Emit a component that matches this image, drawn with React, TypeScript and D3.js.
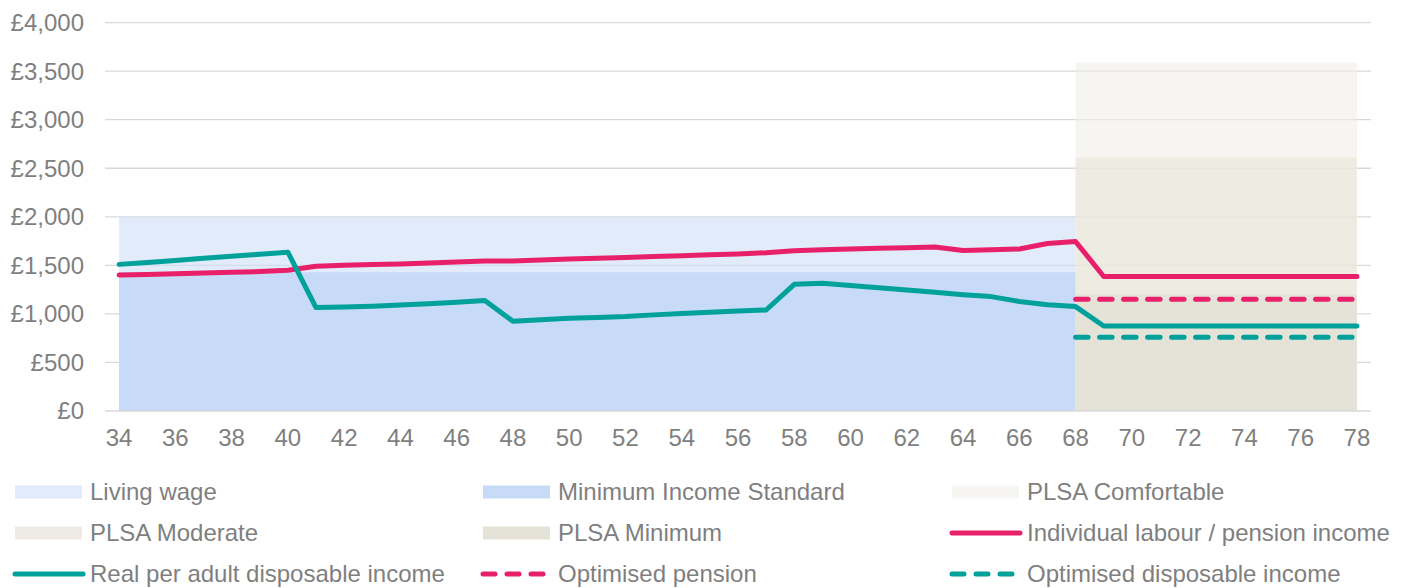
import React from "react";
import * as d3 from "d3";

const ages = [34,35,36,37,38,39,40,41,42,43,44,45,46,47,48,49,50,51,52,53,54,55,56,57,58,59,60,61,62,63,64,65,66,67,68,69,70,71,72,73,74,75,76,77,78];
const xTickLabels = ["34","36","38","40","42","44","46","48","50","52","54","56","58","60","62","64","66","68","70","72","74","76","78"];
const yTicks = [0,500,1000,1500,2000,2500,3000,3500,4000];

// [age, value] pairs for the reference bands
const livingWage: [number, number][] = [[34,2000],[68,2000]];
const minIncomeStandard: [number, number][] = [[34,1430],[68,1430]];
const plsaComfortable: [number, number][] = [[68,3590],[78,3590]];
const plsaModerate: [number, number][] = [[68,2610],[78,2610]];
const plsaMinimum: [number, number][] = [[68,1200],[78,1200]];

const labourIncome = [1400,1407,1414,1421,1428,1436,1450,1490,1500,1508,1515,1525,1535,1545,1545,1555,1565,1573,1580,1590,1598,1608,1618,1630,1650,1660,1668,1675,1682,1690,1652,1660,1668,1725,1745,1385,1385,1385,1385,1385,1385,1385,1385,1385,1385];
const disposableIncome = [1510,1530,1550,1572,1593,1615,1636,1065,1072,1080,1092,1105,1120,1137,925,940,955,963,972,990,1005,1018,1030,1040,1305,1316,1292,1270,1247,1222,1198,1178,1128,1095,1075,875,875,875,875,875,875,875,875,875,875];
const optimisedAges = [68,69,70,71,72,73,74,75,76,77,78];
const optimisedPension = [1150,1150,1150,1150,1150,1150,1150,1150,1150,1150,1150];
const optimisedDisposable = [760,760,760,760,760,760,760,760,760,760,760];

const PINK = "#E8206A";
const TEAL = "#00A19B";
const GRID = "#D9D9D9";
const TEXT = "#7F7F7F";
const FONT = "'Liberation Sans', Arial, sans-serif";
const FS = 24;
const LW = 5;

export default function App() {
  const W = 1407, H = 588;
  const x = d3.scalePoint<number>().domain(ages).range([105, 1371]).padding(0.5);
  const y = d3.scaleLinear().domain([0, 4000]).range([411, 22.6]);

  const band = (data: [number, number][]) =>
    d3.area<[number, number]>().x(d => x(d[0])!).y0(y(0)).y1(d => y(d[1]))(data) || "";
  const line = d3.line<[number, number]>().x(d => x(d[0])!).y(d => y(d[1]));

  const labourPts = ages.map((a, i) => [a, labourIncome[i]] as [number, number]);
  const dispPts = ages.map((a, i) => [a, disposableIncome[i]] as [number, number]);
  const optPenPts = optimisedAges.map((a, i) => [a, optimisedPension[i]] as [number, number]);
  const optDispPts = optimisedAges.map((a, i) => [a, optimisedDisposable[i]] as [number, number]);

  const legendCols = [15, 483, 952];
  const legendRows = [492, 533, 574];
  type Item = { label: string; kind: "rect" | "line" | "dash"; color: string };
  const legend: Item[] = [
    { label: "Living wage", kind: "rect", color: "#E2EBFA" },
    { label: "Minimum Income Standard", kind: "rect", color: "#C7DAF7" },
    { label: "PLSA Comfortable", kind: "rect", color: "#F6F5F1" },
    { label: "PLSA Moderate", kind: "rect", color: "#EEEBE4" },
    { label: "PLSA Minimum", kind: "rect", color: "#E5E2D8" },
    { label: "Individual labour / pension income", kind: "line", color: PINK },
    { label: "Real per adult disposable income", kind: "line", color: TEAL },
    { label: "Optimised pension", kind: "dash", color: PINK },
    { label: "Optimised disposable income", kind: "dash", color: TEAL },
  ];

  return (
    <svg width={W} height={H} style={{ position: "absolute", left: 0, top: 0, background: "#fff" }} fontFamily={FONT}>
      {yTicks.filter(t => t > 0).map(t => (
        <line key={t} x1={105} x2={1371} y1={y(t)} y2={y(t)} stroke={GRID} strokeWidth={1.33} />
      ))}
      <path d={band(livingWage)} fill="rgb(207,222,247)" fillOpacity={0.6} />
      <path d={band(minIncomeStandard)} fill="#C7DAF7" />
      <path d={band(plsaComfortable)} fill="rgb(240,238,232)" fillOpacity={0.6} />
      <path d={band(plsaModerate)} fill="rgb(233,228,219)" fillOpacity={0.6} />
      <path d={band(plsaMinimum)} fill="#E5E2D8" />
      <line x1={105} x2={1371} y1={y(0)} y2={y(0)} stroke={GRID} strokeWidth={1.33} />
      {yTicks.map(t => (
        <text key={t} x={84} y={y(t)} dy="0.35em" textAnchor="end" fontSize={FS} fill={TEXT}>
          {"£" + d3.format(",")(t)}
        </text>
      ))}
      {xTickLabels.map(l => (
        <text key={l} x={x(+l)!} y={438} dy="0.35em" textAnchor="middle" fontSize={FS} fill={TEXT}>{l}</text>
      ))}
      <path d={line(labourPts) || ""} fill="none" stroke={PINK} strokeWidth={LW} strokeLinejoin="round" strokeLinecap="round" />
      <path d={line(dispPts) || ""} fill="none" stroke={TEAL} strokeWidth={LW} strokeLinejoin="round" strokeLinecap="round" />
      <path d={line(optPenPts) || ""} fill="none" stroke={PINK} strokeWidth={LW} strokeDasharray="12.5 11.5" strokeLinecap="round" />
      <path d={line(optDispPts) || ""} fill="none" stroke={TEAL} strokeWidth={LW} strokeDasharray="12.5 11.5" strokeLinecap="round" />
      {legend.map((it, i) => {
        const cx = legendCols[i % 3];
        const cy = legendRows[Math.floor(i / 3)];
        return (
          <g key={it.label}>
            {it.kind === "rect" && <rect x={cx} y={cy - 6.5} width={67} height={13} fill={it.color} />}
            {it.kind === "line" && <line x1={cx} x2={cx + 68} y1={cy} y2={cy} stroke={it.color} strokeWidth={LW} strokeLinecap="round" />}
            {it.kind === "dash" && <line x1={cx} x2={cx + 68} y1={cy} y2={cy} stroke={it.color} strokeWidth={LW} strokeLinecap="round" strokeDasharray="12 12" />}
            <text x={cx + 75} y={cy} dy="0.35em" fontSize={FS} fill={TEXT}>{it.label}</text>
          </g>
        );
      })}
    </svg>
  );
}
